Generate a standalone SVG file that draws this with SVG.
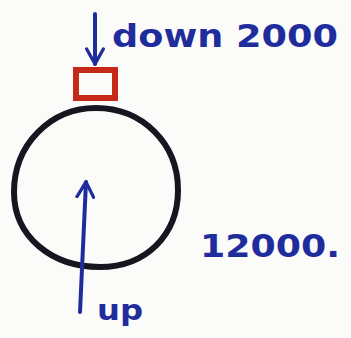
<svg xmlns="http://www.w3.org/2000/svg" width="351" height="338" viewBox="0 0 351 338">
<style>
.t{font-family:"DejaVu Sans","Liberation Sans",sans-serif;font-weight:bold;fill:#1f2d9c}
.a{stroke:#1f2d9c;stroke-width:4;stroke-linecap:round;fill:none}
</style>
<defs>
<marker id="ah" viewBox="0 0 12 12" refX="10" refY="6" markerWidth="5" markerHeight="5" markerUnits="strokeWidth" orient="auto">
<path d="M1,1 L10,6 L1,11" fill="none" stroke="#1f2d9c" stroke-width="2" stroke-linecap="round" stroke-linejoin="round"/>
</marker>
</defs>
<rect width="351" height="338" fill="#fbfbf9"/>
<g id="ball">
<path d="M96,108 C142,108 178,143 178,190 C178,235 146,267 100,267 C52,267 14,237 14,192 C14,145 50,108 96,108 Z" fill="none" stroke="#17151f" stroke-width="6"/>
</g>
<g id="block">
<rect x="76" y="70" width="39" height="28" fill="none" stroke="#c42a17" stroke-width="6"/>
</g>
<g id="connectors">
<line class="a" x1="95" y1="14" x2="95" y2="64" marker-end="url(#ah)"/>
<line class="a" x1="80" y1="312" x2="86" y2="182" marker-end="url(#ah)"/>
</g>
<g id="labels">
<text class="t" x="112" y="47" font-size="32" textLength="226" lengthAdjust="spacingAndGlyphs">down 2000</text>
<text class="t" x="200" y="257" font-size="32" textLength="140" lengthAdjust="spacingAndGlyphs">12000.</text>
<text class="t" x="97" y="320" font-size="28" textLength="46" lengthAdjust="spacingAndGlyphs">up</text>
</g>
</svg>
